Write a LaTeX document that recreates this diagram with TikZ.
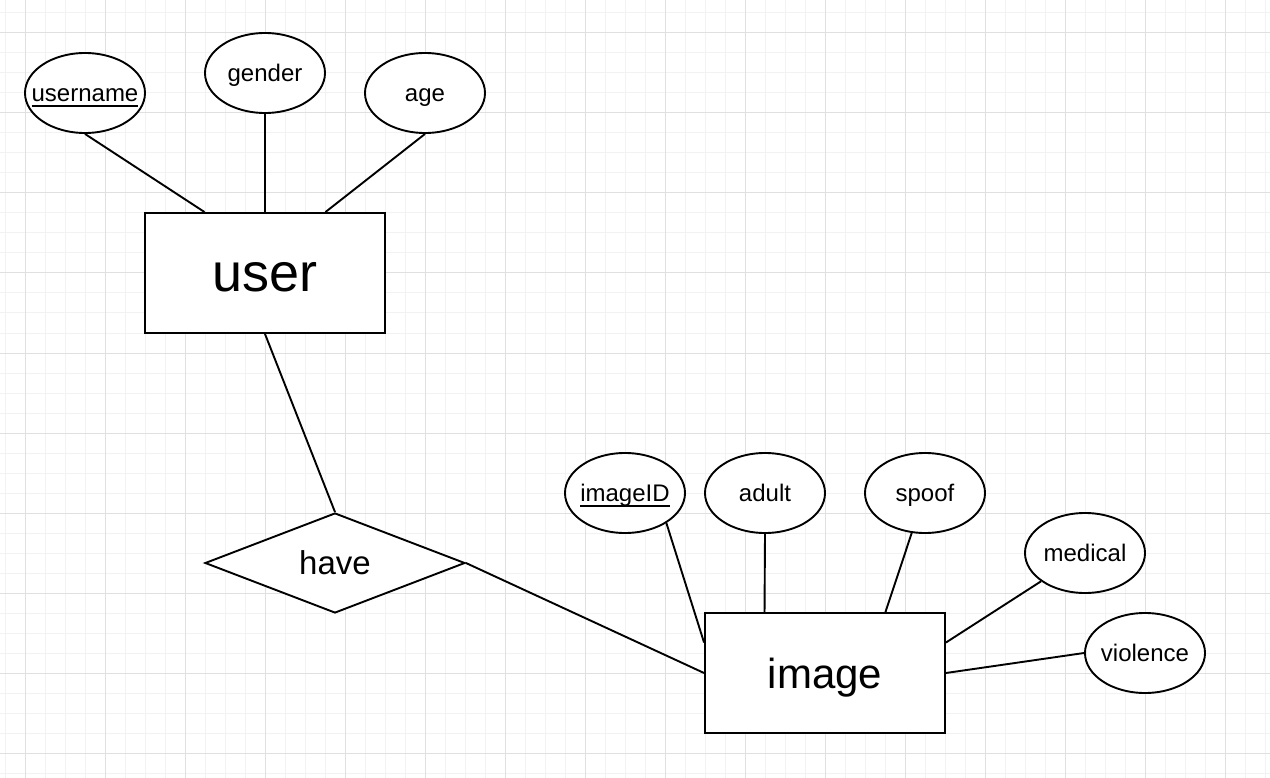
\documentclass[tikz,border=0pt]{standalone}
\usepackage{fontspec}
\setmainfont{Liberation Sans}
\usetikzlibrary{shapes.geometric,calc}
\definecolor{gridmaj}{HTML}{E0E0E0}
\definecolor{gridmin}{HTML}{F2F2F2}
\newcommand{\ulabel}[1]{\setbox0=\hbox{#1}\rlap{\rule[-5.5pt]{\wd0}{1.9pt}}\box0}
\begin{document}
\begin{tikzpicture}[x=1pt,y=-1pt,line width=1.9pt,
  gridminor/.style={draw=gridmin,line width=1pt},
  gridmajor/.style={draw=gridmaj,line width=1pt},
  attr/.style={ellipse,draw,fill=white,minimum width=120pt,minimum height=80pt,inner sep=0pt,
    font=\fontsize{24}{28}\selectfont,text height=21.6pt,text depth=4.2pt},
  entity/.style={rectangle,draw,fill=white,minimum width=240pt,minimum height=120pt,inner sep=0pt},
  rel/.style={diamond,aspect=2.6,draw,fill=white,minimum width=260pt,minimum height=100pt,inner sep=0pt,
    font=\fontsize{33}{38}\selectfont,text height=29.7pt,text depth=6.6pt},
  conn/.style={draw,line width=1.9pt}]
\fill[white] (0,0) rectangle (1270,778);
\useasboundingbox (0,0) rectangle (1270,778);
\foreach \x in {5,25,...,1265} \draw[gridminor] (\x,0) -- (\x,778);
\foreach \y in {13,33,...,773} \draw[gridminor] (0,\y) -- (1270,\y);
\foreach \x in {25,105,...,1265} \draw[gridmajor] (\x,0) -- (\x,778);
\foreach \y in {33,113,...,753} \draw[gridmajor] (0,\y) -- (1270,\y);

% entities
\node[entity,font=\fontsize{54}{60}\selectfont,text height=48.6pt,text depth=10.8pt] (user) at (265,273) {user};
\node[entity,font=\fontsize{42}{48}\selectfont,text height=37.8pt,text depth=7.4pt] (image) at (825,673) {image};
% relationship
\node[rel] (have) at (335,563) {have};
% attributes
\node[attr] (username) at (85,93) {\makebox[0pt]{\ulabel{username}}};
\node[attr] (gender) at (265,73) {\makebox[0pt]{gender}};
\node[attr] (age) at (425,93) {\makebox[0pt]{age}};
\node[attr] (imageID) at (625,493) {\makebox[0pt]{\ulabel{imageID}}};
\node[attr] (adult) at (765,493) {\makebox[0pt]{adult}};
\node[attr] (spoof) at (925,493) {\makebox[0pt]{spoof}};
\node[attr] (medical) at (1085,553) {\makebox[0pt]{medical}};
\node[attr] (violence) at (1145,653) {\makebox[0pt]{violence}};

% connectors
\draw[conn] (username.south) -- ($(user.north west)!0.25!(user.north east)$);
\draw[conn] (gender.south) -- (user.north);
\draw[conn] (age.south) -- ($(user.north west)!0.75!(user.north east)$);
\draw[conn] (user.south) -- (have.north);
\draw[conn] (have.east) -- (image.west);
\draw[conn] (imageID.-36) -- ($(image.north west)!0.25!(image.south west)$);
\draw[conn] (adult.south) -- ($(image.north west)!0.25!(image.north east)$);
\draw[conn] (spoof) -- ($(image.north west)!0.75!(image.north east)$);
\draw[conn] (medical) -- ($(image.north east)!0.25!(image.south east)$);
\draw[conn] (violence.west) -- (image.east);
\end{tikzpicture}
\end{document}
